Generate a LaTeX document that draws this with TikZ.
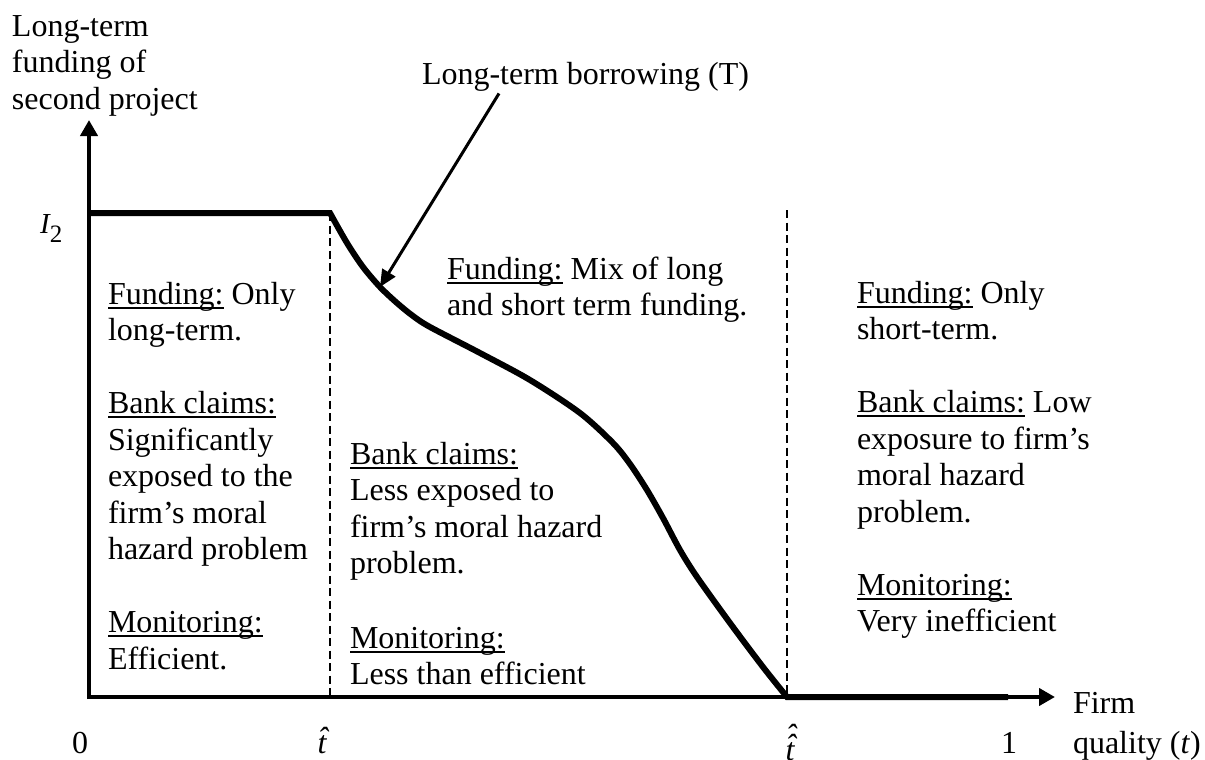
\documentclass[tikz,border=0pt]{standalone}
\usepackage{fontspec}
\setmainfont{Liberation Serif}
\usetikzlibrary{arrows.meta}
\newsavebox\ulbox
\newcommand\ulx[1]{\sbox\ulbox{#1}\rlap{\rule[-4.5pt]{\wd\ulbox}{1.8pt}}\usebox\ulbox}
\newcommand\hatone{{\itshape\ooalign{t\cr\hidewidth\kern1.5pt\raisebox{4pt}{ˆ}\hidewidth\cr}}}
\newcommand\hattwo{{\itshape\ooalign{t\cr\hidewidth\kern1.5pt\raisebox{4pt}{ˆ}\hidewidth\cr\hidewidth\kern2pt\raisebox{14pt}{ˆ}\hidewidth\cr}}}
\tikzset{
  txt/.style={anchor=north west, inner sep=0pt, outer sep=0pt, align=left,
              font=\fontsize{32}{36.5}\selectfont},
  lbl/.style={anchor=base, inner sep=0pt, outer sep=0pt, font=\fontsize{32}{36.5}\selectfont},
  axis/.style={line width=4pt, -{Triangle[length=16pt,width=17pt]}},
  bold/.style={line width=6pt, line join=miter},
  guide/.style={line width=2pt, dash pattern=on 8pt off 4.5pt},
  pointer/.style={line width=3pt, -{Triangle[length=17pt,width=15pt]}}
}
\begin{document}
\begin{tikzpicture}[x=1pt,y=-1pt]
\useasboundingbox (0,0) rectangle (1205,760);
% axes
\coordinate (O) at (89,697);
\coordinate (ytop) at (89,120);
\coordinate (xend) at (1055,697);
\coordinate (kinkA) at (330,213);
\coordinate (kinkB) at (787,697);
\coordinate (bend) at (1008,697);
\coordinate (tip) at (380,287);
\draw[axis] ([yshift=-2pt]O) -- (ytop);
\draw[axis] ([xshift=-2pt]O) -- (xend);
% dashed guides
\draw[guide] (kinkA) -- (330,697);
\draw[guide] (787,210) -- (kinkB);
% main curve
\draw[bold] (89,213) -- plot[smooth, tension=0.5] coordinates {(330,213) (347,243) (363,267) (380,287) (397,303) (413,316) (430,327) (480,353) (530,380) (580,413) (613,443) (630,464) (647,490) (663,518) (680,550) (697,577) (730,623) (763,667) (787,697)} -- (bend);
% labels
\node[txt] (ylab) at (12,10.5) {\strut Long-term\\funding of\\second project};
\node[anchor=base west, inner sep=0pt] (I2) at (40,233) {{\fontsize{29}{32}\selectfont\itshape I}\raisebox{-9pt}{\fontsize{25}{28}\selectfont 2}};
\node[txt] (ltb) at (422,59.45) {\strut Long-term borrowing (T)};
\draw[pointer] ([xshift=77pt,yshift=-34pt]ltb.north west) -- (tip);
\node[txt] (left) at (108,278.5) {\strut\ulx{Funding:} Only\\long-term.\\[36.5pt]\ulx{Bank claims:}\\Significantly\\exposed to the\\firm’s moral\\hazard problem\\[36.5pt]\ulx{Monitoring:}\\Efficient.};
\node[txt] (midtop) at (447,253.5) {\strut\ulx{Funding:} Mix of long\\and short term funding.};
\node[txt] (midbot) at (350,438.5) {\strut\ulx{Bank claims:}\\Less exposed to\\firm’s moral hazard\\problem.\\[38pt]\ulx{Monitoring:}\\Less than efficient};
\node[txt] (right) at (857,277.5) {\strut\ulx{Funding:} Only\\short-term.\\[36.5pt]\ulx{Bank claims:} Low\\exposure to firm’s\\moral hazard\\problem.\\[36.5pt]\ulx{Monitoring:}\\Very inefficient};
\node[txt] (xlab) at (1073,688) {\strut Firm\\[3.5pt]quality (\textit{t})};
\node[lbl] (zero) at (80,753) {0};
\node[lbl] (that) at (322,753) {\hatone};
\node[lbl] (thh) at (790,760) {\hattwo};
\node[lbl] (one) at (1009,753) {1};
\end{tikzpicture}
\end{document}
